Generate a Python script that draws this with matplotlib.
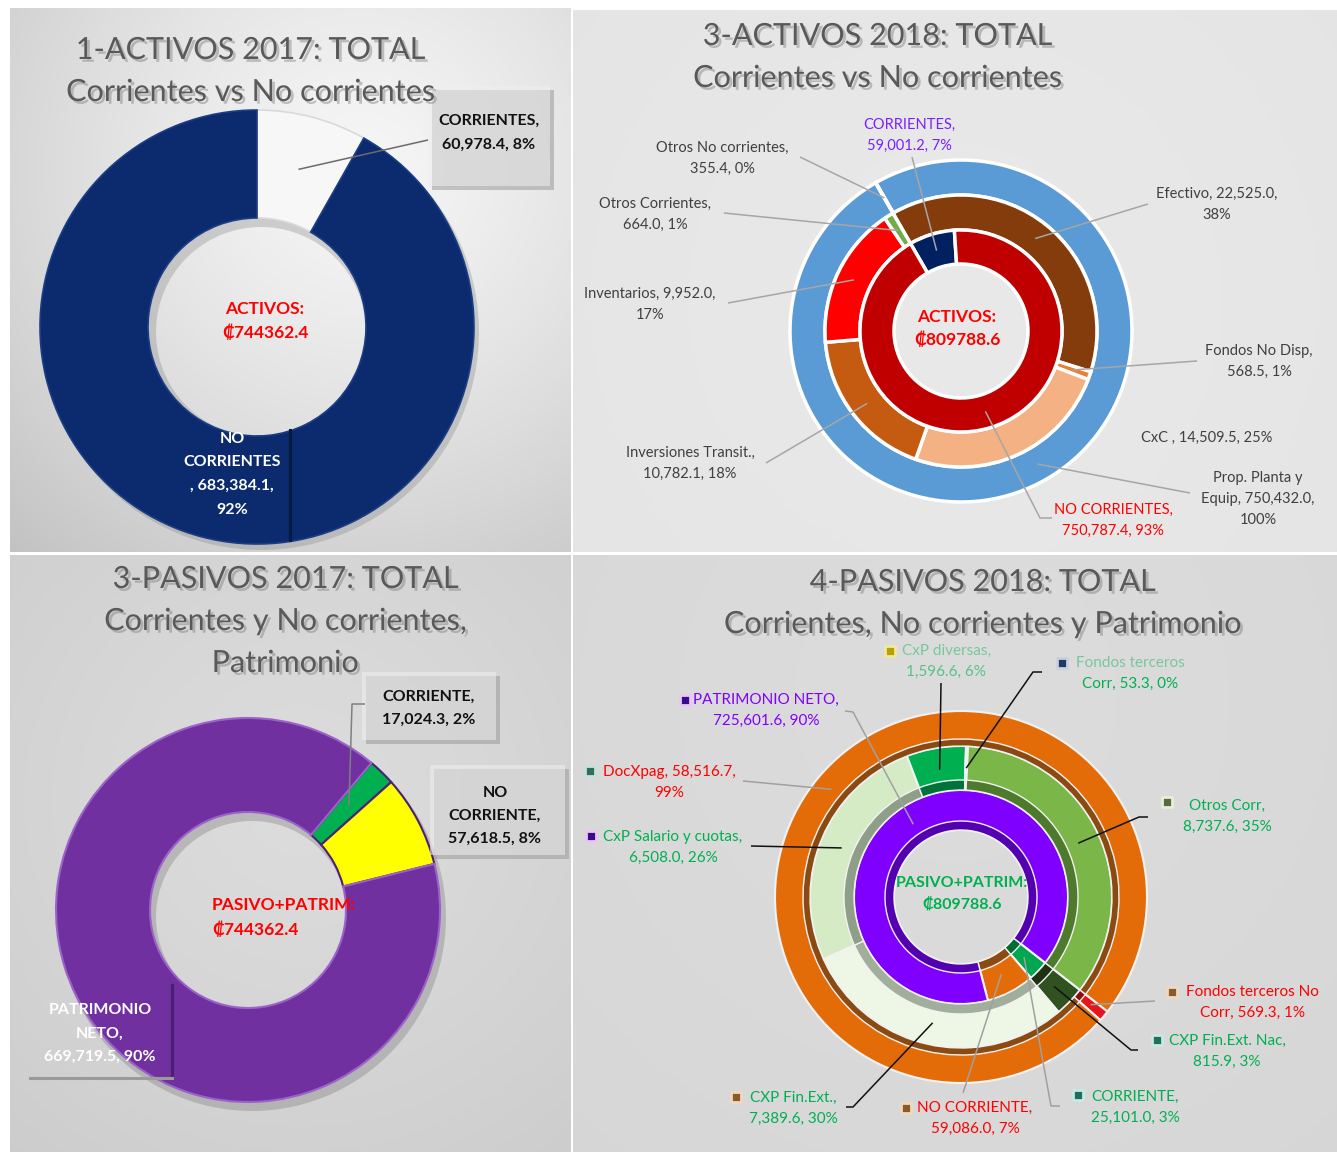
import numpy as np
import matplotlib
matplotlib.use("Agg")
import matplotlib.pyplot as plt
from matplotlib.patches import Rectangle
import matplotlib.patheffects as pe

# ---------------- data ----------------
# 1 - Activos 2017
act17_labels = ["CORRIENTES", "NO CORRIENTES"]
act17_values = [60978.4, 683384.1]
act17_total = 744362.4

# 3 - Activos 2018 (inner: totals, middle: current detail, outer: non-current detail)
act18_inner_labels = ["CORRIENTES", "NO CORRIENTES"]
act18_inner_values = [59001.2, 750787.4]
act18_mid_labels = ["Efectivo", "Fondos No Disp", "CxC ", "Inversiones Transit.",
                    "Inventarios", "Otros Corrientes"]
act18_mid_values = [22525.0, 568.5, 14509.5, 10782.1, 9952.0, 664.0]
act18_outer_labels = ["Otros No corrientes", "Prop. Planta y Equip"]
act18_outer_values = [355.4, 750432.0]
act18_total = 809788.6

# 3 - Pasivos 2017
pas17_labels = ["CORRIENTE", "NO CORRIENTE", "PATRIMONIO NETO"]
pas17_values = [17024.3, 57618.5, 669719.5]
pas17_total = 744362.4

# 4 - Pasivos 2018
pas18_inner_labels = ["CORRIENTE", "NO CORRIENTE", "PATRIMONIO NETO"]
pas18_inner_values = [25101.0, 59086.0, 725601.6]
pas18_mid_labels = ["CXP Fin.Ext. Nac", "CXP Fin.Ext.", "CxP Salario y cuotas",
                    "CxP diversas", "Fondos terceros Corr", "Otros Corr"]
pas18_mid_values = [815.9, 7389.6, 6508.0, 1596.6, 53.3, 8737.6]
pas18_outer_labels = ["Fondos terceros No Corr", "DocXpag"]
pas18_outer_values = [569.3, 58516.7]
pas18_total = 809788.6

# ---------------- figure ----------------
W, H = 1337, 1152
FONT = ["Lato", "DejaVu Sans"]
plt.rcParams["font.family"] = FONT

fig = plt.figure(figsize=(W / 100, H / 100), dpi=100)
fig.patch.set_facecolor("white")
ax = fig.add_axes([0, 0, 1, 1])
ax.set_axis_off()


def Y(y):
    """top-origin pixel row -> data y"""
    return H - y


def pct_round(values):
    v = np.asarray(values, float)
    p = v / v.sum() * 100
    fl = np.floor(p).astype(int)
    short = 100 - fl.sum()
    order = np.argsort(-(p - fl))
    fl[order[:short]] += 1
    return fl


def fmt(template, name, value, pct):
    return template.format(n=name, v=f"{value:,.1f}", p=pct)


def gradient_bg(x0, y0, x1, y1, cx, cy, rad, c_in, c_out):
    nx, ny = int(x1 - x0), int(y1 - y0)
    xs = np.linspace(x0, x1, nx)
    ys = np.linspace(y0, y1, ny)
    X, Yg = np.meshgrid(xs, ys)
    d = np.clip(np.hypot(X - cx, Yg - cy) / rad, 0, 1) ** 1.3
    ci = np.array(matplotlib.colors.to_rgb(c_in))
    co = np.array(matplotlib.colors.to_rgb(c_out))
    img = ci[None, None, :] * (1 - d[..., None]) + co[None, None, :] * d[..., None]
    ax.imshow(img, extent=(x0, x1, Y(y1), Y(y0)), origin="upper",
              zorder=0, interpolation="bilinear")


def ring(values, center, r_out, r_in, colors, start, edge="white", lw=2.0,
         z=2, alpha=1.0):
    wedges, _ = ax.pie(values, radius=r_out, center=(center[0], Y(center[1])),
                       startangle=90 - start, counterclock=False, colors=colors,
                       wedgeprops=dict(width=r_out - r_in, edgecolor=edge,
                                       linewidth=lw, alpha=alpha))
    for w in wedges:
        w.set_zorder(z)
    return wedges


def wedge_point(w, frac=0.5):
    ang = np.deg2rad((w.theta1 + w.theta2) / 2)
    r = w.r - w.width * frac
    return (w.center[0] + r * np.cos(ang), w.center[1] + r * np.sin(ang))


def leader(pts, anchor, color="#a6a6a6", lw=1.1):
    xs = [p[0] for p in pts] + [anchor[0]]
    ys = [Y(p[1]) for p in pts] + [anchor[1]]
    ax.plot(xs, ys, color=color, lw=lw, zorder=7, solid_capstyle="butt")


def lines_text(text, x, y_first, spacing, size, color, weight="normal",
               ha="center", alphas=None, effects=None):
    for i, line in enumerate(text.split("\n")):
        a = 1.0 if alphas is None else alphas[min(i, len(alphas) - 1)]
        t = ax.text(x, Y(y_first + i * spacing), line, ha=ha, va="center",
                    fontsize=size, color=color, fontweight=weight, alpha=a,
                    family=FONT, zorder=9)
        if effects:
            t.set_path_effects(effects)


def box(x0, y0, x1, y1, face="#efefef", falpha=0.55, shadow="#9a9a9a"):
    ax.add_patch(Rectangle((x0 + 4, Y(y1) - 4), x1 - x0, y1 - y0,
                           facecolor=shadow, edgecolor="none", alpha=0.55, zorder=5))
    ax.add_patch(Rectangle((x0, Y(y1)), x1 - x0, y1 - y0, facecolor=face,
                           edgecolor="none", alpha=falpha, zorder=5.5))


title_fx = [pe.withSimplePatchShadow(offset=(2, -2), shadow_rgbFace="#7f7f7f", alpha=0.45)]


def title(lines, x, y_first, spacing):
    lines_text("\n".join(lines), x, y_first, spacing, 22, "#595959",
               effects=title_fx)


# ---------------- panel backgrounds ----------------
gradient_bg(10, 8, 571, 552, 360, 170, 560, "#f6f6f6", "#bdbdbd")
gradient_bg(573, 10, 1337, 552, 955, 300, 700, "#e9e9e9", "#e2e2e2")
gradient_bg(10, 555, 571, 1152, 300, 800, 600, "#dcdcdc", "#c6c6c6")
gradient_bg(573, 555, 1337, 1152, 955, 700, 800, "#dcdcdc", "#d4d4d4")

# ================= 1-ACTIVOS 2017 =================
c1 = (257, 327)
ring(act17_values, (c1[0] + 4, c1[1] + 5), 218, 105, ["#8a8a8a"] * 2, 0,
     edge="none", lw=0, z=1, alpha=0.35)
w1 = ring(act17_values, c1, 217, 109, ["#f7f7f7", "#0b2b6e"], 0,
          edge="#1c3d85", lw=1.2, z=2)
w1[0].set_edgecolor("#d9d9d9")
title(["1-ACTIVOS 2017: TOTAL", "Corrientes vs No corrientes"], 250, 50, 42)
p1 = pct_round(act17_values)
box(428, 86, 550, 186)
lines_text(fmt("{n},\n{v}, {p}%", act17_labels[0], act17_values[0], p1[0]),
           489, 121, 24, 11.5, "#111111", weight="bold")
leader([(428, 140)], wedge_point(w1[0]), color="#6b6b6b", lw=1.1)
# inner label frame of the large slice
ax.plot([290, 290], [Y(430), Y(540)], color="#051a45", lw=2.2, zorder=6)
lines_text(fmt("NO\nCORRIENTES\n, {v},\n{p}%", act17_labels[1], act17_values[1], p1[1]),
           232, 439, 23.5, 11.5, "white", weight="bold")
lines_text(f"ACTIVOS:\n\u20a1{act17_total:.1f}", 265, 309, 23.5, 12.5, "#ff0000",
           weight="bold")

# ================= 3-ACTIVOS 2018 =================
c2 = (961, 331)
col2_outer = ["#ffffff", "#5b9bd5"]
col2_mid = ["#843c0c", "#ed7d31", "#f4b183", "#c55a11", "#ff0000", "#70ad47"]
col2_inner = ["#002060", "#c00000"]
w2o = ring(act18_outer_values, c2, 171, 136, col2_outer, -30, lw=2.5)
w2m = ring(act18_mid_values, c2, 136, 101, col2_mid, -30, lw=2.5)
w2i = ring(act18_inner_values, c2, 101, 67, col2_inner, -30, lw=2.5)
title(["3-ACTIVOS 2018: TOTAL", "Corrientes vs No corrientes"], 877, 36, 42)

p2o = pct_round(act18_outer_values)
p2m = pct_round(act18_mid_values)
p2i = pct_round(act18_inner_values)
LC = "#404040"
S2 = 10.5
# inner ring
lines_text(fmt("{n},\n{v}, {p}%", act18_inner_labels[0], act18_inner_values[0], p2i[0]),
           909, 125, 21, S2, "#7a1fff")
leader([(912, 157)], wedge_point(w2i[0]))
lines_text(fmt("{n},\n{v}, {p}%", act18_inner_labels[1], act18_inner_values[1], p2i[1]),
           1113, 510, 21, S2, "#ff0000")
leader([(1052, 518), (1040, 518)], wedge_point(w2i[1]))
# outer ring
lines_text(fmt("{n},\n{v}, {p}%", act18_outer_labels[0], act18_outer_values[0], p2o[0]),
           722, 148, 21, S2, LC)
leader([(800, 157)], wedge_point(w2o[0]))
lines_text(fmt("Prop. Planta y\nEquip, {v},\n{p}%", act18_outer_labels[1],
               act18_outer_values[1], p2o[1]), 1258, 478, 21, S2, LC)
leader([(1190, 493)], wedge_point(w2o[1]))
# middle ring
mid2_specs = [
    ("{n}, {v},\n{p}%", 1217, 194, [(1148, 204)]),
    ("{n},\n{v}, {p}%", 1259, 351, [(1197, 361)]),
    ("{n}, {v}, {p}%", 1207, 438, None),
    ("{n},\n{v}, {p}%", 690, 453, [(766, 463)]),
    ("{n}, {v},\n{p}%", 650, 294, [(728, 303)]),
    ("{n},\n{v}, {p}%", 655, 204, [(724, 213)]),
]
for i, (tpl, x, y, pts) in enumerate(mid2_specs):
    lines_text(fmt(tpl, act18_mid_labels[i], act18_mid_values[i], p2m[i]),
               x, y, 21, S2, LC)
    if pts:
        leader(pts, wedge_point(w2m[i]))
lines_text(f"ACTIVOS:\n\u20a1{act18_total:.1f}", 957, 317, 23, 12.5, "#ff0000",
           weight="bold")

# ================= 3-PASIVOS 2017 =================
c3 = (248, 910)
ring(pas17_values, (c3[0] + 4, c3[1] + 7), 194, 96, ["#7a7a7a"] * 3, 40,
     edge="none", lw=0, z=1, alpha=0.35)
w3 = ring(pas17_values, c3, 192, 98, ["#00b050", "#ffff00", "#7030a0"], 40,
          edge="#4e1f75", lw=1.5, z=2)
w3[2].set_edgecolor("#9b63c9")
title(["3-PASIVOS 2017: TOTAL", "Corrientes y No corrientes,", "Patrimonio"],
      285, 579, 42)
p3 = pct_round(pas17_values)
box(362, 672, 496, 740)
lines_text(fmt("{n},\n{v}, {p}%", pas17_labels[0], pas17_values[0], p3[0]),
           429, 697, 23, 11.5, "#111111", weight="bold")
leader([(365, 704), (352, 704)], wedge_point(w3[0]), color="#7f7f7f", lw=1.1)
box(430, 765, 565, 855)
lines_text(fmt("NO\nCORRIENTE,\n{v}, {p}%", pas17_labels[1], pas17_values[1], p3[1]),
           495, 793, 23, 11.5, "#111111", weight="bold")
# label frame of the large slice
ax.plot([172, 172], [Y(985), Y(1078)], color="#4a1f70", lw=2.2, zorder=6)
ax.plot([30, 172], [Y(1078), Y(1078)], color="#9a9a9a", lw=2.2, zorder=6)
lines_text(fmt("PATRIMONIO\nNETO,\n{v}, {p}%", pas17_labels[2], pas17_values[2], p3[2]),
           100, 1010, 23.5, 11.5, "white", weight="bold")
lines_text(f"PASIVO+PATRIM:\n\u20a1{pas17_total:.1f}", 212, 905, 25, 12.5,
           "#ff0000", weight="bold", ha="left")

# ================= 4-PASIVOS 2018 =================
c4 = (961, 897)
S4 = 128  # first-slice angle, clockwise from 12 o'clock, shared by the three rings
col4_outer = ["#e8141b", "#e36c09"]
dk4_outer = ["#8e0c10", "#8b4a12"]
col4_mid = ["#2f5220", "#eef7e6", "#d5ebc6", "#00b050", "#ffffff", "#7ab648"]
dk4_mid = ["#1c3213", "#a2ae9c", "#8e9e88", "#00733a", "#cccccc", "#4e7a2e"]
col4_inner = ["#00a650", "#e36c09", "#7f00ff"]
dk4_inner = ["#006b33", "#8b4a12", "#5200b0"]

w4o = ring(pas18_outer_values, c4, 186, 151, col4_outer, S4, edge="#f2f2f2", lw=1.5)
ring(pas18_outer_values, c4, 158, 151, dk4_outer, S4, edge="#f2f2f2", lw=1.0, z=3)
w4m = ring(pas18_mid_values, c4, 151, 107, col4_mid, S4, edge="#f2f2f2", lw=1.5)
ring(pas18_mid_values, c4, 117, 107, dk4_mid, S4, edge="#f2f2f2", lw=1.0, z=3)
w4i = ring(pas18_inner_values, c4, 107, 67, col4_inner, S4, edge="#f2f2f2", lw=1.5)
ring(pas18_inner_values, c4, 76, 67, dk4_inner, S4, edge="#f2f2f2", lw=1.0, z=3)
title(["4-PASIVOS 2018: TOTAL", "Corrientes, No corrientes y Patrimonio"], 982, 582, 42)

p4o = pct_round(pas18_outer_values)
p4m = pct_round(pas18_mid_values)
p4i = pct_round(pas18_inner_values)
GREEN, RED, PURPLE = "#00b050", "#ff0000", "#7f00ff"
S4F = 11
BLK, GRY = "#111111", "#a0a0a0"


def legend_key(x, y, face, edge):
    ax.scatter([x], [Y(y)], marker="s", s=42, c=face, edgecolors=edge,
               linewidths=2.0, zorder=9)


# (template, text x, first-line y, colour, key x, key y, key colours, leader pts, leader colour, alphas)
inner4_specs = [
    ("{n},\n{v}, {p}%", 1135, 1097, GREEN, 1078, 1095, ("#1f6f5f", "#c8e8e0"),
     [(1060, 1106), (1051, 1106)], GRY, None),
    ("{n},\n{v}, {p}%", 975, 1108, RED, 906, 1108, ("#8b5a2b", "#f0d8c0"),
     [(963, 1093)], GRY, None),
    ("{n},\n{v}, {p}%", 766, 700, PURPLE, 685, 700, ("#3a0a8c", "#e8c8f0"),
     [(845, 711), (853, 712)], GRY, None),
]
mid4_specs = [
    ("{n},\n{v}, {p}%", 1227, 1041, GREEN, 1157, 1040, ("#1f6f5f", "#c8e8e0"),
     [(1138, 1050), (1131, 1050)], BLK, None),
    ("{n},\n{v}, {p}%", 793, 1098, GREEN, 736, 1097, ("#8b5a2b", "#f0d8c0"),
     [(846, 1107), (853, 1107)], BLK, None),
    ("{n},\n{v}, {p}%", 673, 837, GREEN, 591, 836, ("#3a0a8c", "#e8c8f0"),
     [(751, 846)], BLK, None),
    ("{n},\n{v}, {p}%", 946, 651, GREEN, 890, 651, ("#b8a000", "#f0e8a0"),
     [(941, 683)], BLK, [0.45, 0.6]),
    ("Fondos terceros\nCorr, {v}, {p}%", 1130, 663, GREEN, 1062, 663,
     ("#203864", "#c8d0e0"), [(1042, 672), (1033, 672)], BLK, [0.45, 1.0]),
    ("{n},\n{v}, {p}%", 1227, 806, GREEN, 1167, 802, ("#5a6a40", "#e8eed8"),
     [(1148, 817), (1139, 817)], BLK, None),
]
outer4_specs = [
    ("Fondos terceros No\nCorr, {v}, {p}%", 1252, 992, RED, 1172, 992,
     ("#8b5a2b", "#f0d8c0"), [(1155, 1001)], GRY, None),
    ("{n}, {v},\n{p}%", 669, 772, RED, 590, 771, ("#2e6e5e", "#c8e0d8"),
     [(743, 781)], GRY, None),
]

for specs, labels, values, pcts, wedges in [
        (inner4_specs, pas18_inner_labels, pas18_inner_values, p4i, w4i),
        (mid4_specs, pas18_mid_labels, pas18_mid_values, p4m, w4m),
        (outer4_specs, pas18_outer_labels, pas18_outer_values, p4o, w4o)]:
    for i, (tpl, x, y, col, kx, ky, kc, pts, lc, al) in enumerate(specs):
        lines_text(fmt(tpl, labels[i], values[i], pcts[i]), x, y, 21, S4F, col,
                   alphas=al)
        legend_key(kx, ky, *kc)
        leader(pts, wedge_point(wedges[i]), color=lc, lw=1.1)

lines_text(f"PASIVO+PATRIM:\n\u20a1{pas18_total:.1f}", 962, 883, 21, 11.5, GREEN,
           weight="bold")

# ---------------- frame ----------------
ax.set_xlim(0, W)
ax.set_ylim(0, H)
ax.set_aspect("auto")
fig.savefig("out.png", dpi=100, facecolor="white")
